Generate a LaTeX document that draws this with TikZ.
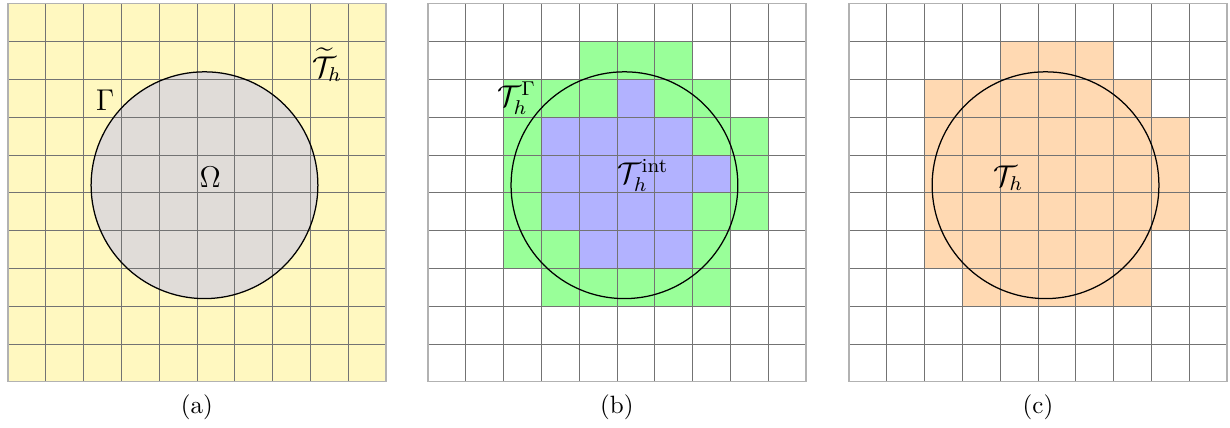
\documentclass[tikz,border=0pt]{standalone}
\usepackage{amsmath,amssymb}
\usetikzlibrary{positioning}
\definecolor{meshyellow}{RGB}{255,248,192}
\definecolor{domaingray}{RGB}{224,220,216}

\begin{document}
\begin{tikzpicture}[
  x=0.531cm, y=0.531cm,
  cutcell/.style={fill=green!40},
  intcell/.style={fill=blue!30},
  activecell/.style={fill=orange!30},
  meshline/.style={black!55, line width=0.3pt},
  meshframe/.style={black!30, line width=0.5pt},
  boundary/.style={black, line width=0.5pt},
  lbl/.style={font=\large, inner sep=1pt},
  caption/.style={font=\normalsize, inner sep=1pt}
]
\useasboundingbox (-0.21,-1.22) rectangle (32.33,10.10);

% (a) background mesh and domain
\begin{scope}
  \fill[meshyellow] (0,0) rectangle (10,10);
  \fill[domaingray] (5.2,5.2) circle (3);
  \foreach \k in {1,...,9} {
    \draw[meshline] (\k,0) -- (\k,10);
    \draw[meshline] (0,\k) -- (10,\k);
  }
  \draw[meshframe] (0,0) rectangle (10,10);
  \draw[boundary] (5.2,5.2) circle (3);
  \node[lbl] (omega) at (5.35,5.42) {$\Omega$};
  \node[lbl] (gamma) at (2.57,7.45) {$\Gamma$};
  \node[lbl] (bgmesh) at (8.44,8.38) {$\widetilde{\mathcal{T}}_h$};
  \node[caption] (capa) at (5,-0.67) {(a)};
\end{scope}

% (b) cut cells and interior cells
\begin{scope}[shift={(11.11,0)}]
  \foreach \j/\a/\b in {8/4/6, 7/2/7, 6/2/8, 5/2/8, 4/2/8, 3/2/7, 2/3/7}
    \fill[cutcell] (\a,\j) rectangle (\b+1,\j+1);
  \foreach \j/\a/\b in {7/5/5, 6/3/6, 5/3/7, 4/3/6, 3/4/6}
    \fill[intcell] (\a,\j) rectangle (\b+1,\j+1);
  \foreach \k in {1,...,9} {
    \draw[meshline] (\k,0) -- (\k,10);
    \draw[meshline] (0,\k) -- (10,\k);
  }
  \draw[meshframe] (0,0) rectangle (10,10);
  \draw[boundary] (5.2,5.2) circle (3);
  \node[lbl] (cutmesh) at (2.35,7.5) {$\mathcal{T}_h^{\Gamma}$};
  \node[lbl] (intmesh) at (5.69,5.47) {$\mathcal{T}_h^{\text{int}}$};
  \node[caption] (capb) at (5,-0.67) {(b)};
\end{scope}

% (c) active mesh
\begin{scope}[shift={(22.25,0)}]
  \foreach \j/\a/\b in {8/4/6, 7/2/7, 6/2/8, 5/2/8, 4/2/8, 3/2/7, 2/3/7}
    \fill[activecell] (\a,\j) rectangle (\b+1,\j+1);
  \foreach \k in {1,...,9} {
    \draw[meshline] (\k,0) -- (\k,10);
    \draw[meshline] (0,\k) -- (10,\k);
  }
  \draw[meshframe] (0,0) rectangle (10,10);
  \draw[boundary] (5.2,5.2) circle (3);
  \node[lbl] (actmesh) at (4.21,5.39) {$\mathcal{T}_h$};
  \node[caption] (capc) at (5,-0.67) {(c)};
\end{scope}

\end{tikzpicture}
\end{document}
